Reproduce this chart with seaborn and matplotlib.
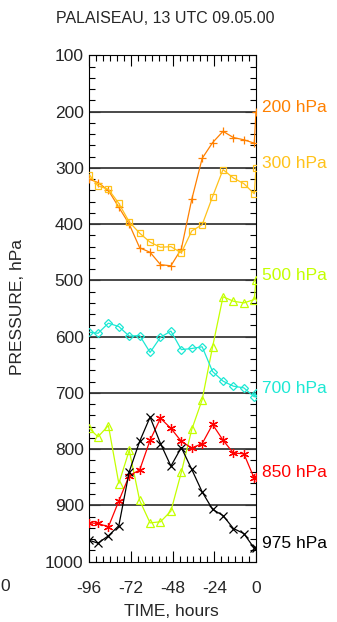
import numpy as np
import pandas as pd
import matplotlib
matplotlib.use('Agg')
import matplotlib.pyplot as plt
import seaborn as sns
from matplotlib.ticker import MultipleLocator

# ---- data ----
hours = [-96, -91, -85, -79, -73, -67, -61, -55, -49, -43, -37, -31, -25, -19, -13, -7, -1, 0]

p200 = [320, 326, 340, 370, 400, 442, 450, 472, 474, 444, 356, 283, 255, 235, 246, 250, 256, 200]
p300 = [312, 332, 338, 363, 396, 416, 432, 441, 440, 451, 412, 401, 351, 303, 318, 328, 346, 300]
p500 = [763, 778, 758, 861, 802, 891, 931, 929, 910, 841, 765, 712, 618, 529, 537, 540, 534, 500]
p700 = [592, 594, 576, 582, 599, 598, 628, 601, 590, 623, 621, 618, 662, 679, 688, 691, 707, 700]
p850 = [931, 932, 938, 892, 847, 837, 784, 745, 763, 786, 798, 790, 756, 784, 807, 808, 852, 850]
p975 = [962, 967, 954, 936, 840, 786, 743, 790, 830, 797, 836, 876, 907, 918, 941, 950, 976, 975]

levels = ['200 hPa', '300 hPa', '500 hPa', '700 hPa', '850 hPa', '975 hPa']
level_values = [200, 300, 500, 700, 850, 975]
series = [p200, p300, p500, p700, p850, p975]
colors = ['#ff8000', '#ffc21a', '#c4ff00', '#1de8d4', '#ff0000', '#000000']
markers = ['+', 's', '^', 'D', (6, 2, 0), 'x']
msizes = [6, 5, 5.5, 3.6, 6.5, 5.5]

x_ticks = [-96, -72, -48, -24, 0]
y_ticks = [100, 200, 300, 400, 500, 600, 700, 800, 900, 1000]
grid_levels = [200, 300, 400, 500, 600, 700, 800, 900]

title = 'PALAISEAU, 13 UTC 09.05.00'
xlabel = 'TIME, hours'
ylabel = 'PRESSURE, hPa'

sns.set_style('ticks')
plt.rcParams['font.family'] = ['Liberation Sans', 'DejaVu Sans']
plt.rcParams['axes.unicode_minus'] = False

W, H = 337, 622
fig = plt.figure(figsize=(W / 100, H / 100), dpi=100)
fig.patch.set_facecolor('white')
ax_l, ax_r, ax_t, ax_b = 89.3, 256.0, 55.4, 561.7
ax = fig.add_axes([ax_l / W, 1 - ax_b / H, (ax_r - ax_l) / W, (ax_b - ax_t) / H])

for g in grid_levels:
    ax.axhline(g, color='#3a3a3a', lw=1.3, zorder=1)

rows = []
for lab, vals in zip(levels, series):
    for t, p in zip(hours, vals):
        rows.append({'time': t, 'pressure': p, 'level': lab})
df = pd.DataFrame(rows)

for lab, col, mk, ms in zip(levels, colors, markers, msizes):
    sub = df[df['level'] == lab]
    sns.lineplot(data=sub, x='time', y='pressure', ax=ax, color=col,
                 marker=mk, markersize=ms, markerfacecolor='none',
                 markeredgecolor=col, markeredgewidth=0.9, linewidth=0.9,
                 estimator=None, sort=False, legend=False, zorder=3)

ax.set_xlim(-96, 0)
ax.set_ylim(1000, 100)
ax.set_xticks(x_ticks)
ax.set_yticks(y_ticks)
ax.xaxis.set_minor_locator(MultipleLocator(4))
ax.yaxis.set_minor_locator(MultipleLocator(20))
ax.tick_params(which='both', direction='in', top=True, right=True, color='black', width=0.8)
ax.tick_params(which='major', length=8)
ax.tick_params(which='minor', length=4)
ax.tick_params(axis='x', which='major', labelsize=12.5, pad=14)
ax.tick_params(axis='y', which='major', labelsize=12.5, pad=4)
for s in ax.spines.values():
    s.set_color('black')
    s.set_linewidth(0.8)
ax.set_xlabel('')
ax.set_ylabel('')

for lab, val, col in zip(levels, level_values, colors):
    ax.annotate(lab, xy=(1, val), xycoords=('axes fraction', 'data'),
                xytext=(4, 0), textcoords='offset points', ha='left', va='baseline',
                color=col, fontsize=12.5, annotation_clip=False)

fig.text(165.5 / W, 1 - 18.8 / H, title, ha='center', va='center', fontsize=11.5)
fig.text(18 / W, 1 - 307 / H, ylabel, ha='center', va='center', rotation=90, fontsize=12.5)
fig.text(171.5 / W, 1 - 611 / H, xlabel, ha='center', va='center', fontsize=12.5)
# stray "0" at the left edge, as in the reference (kept fully inside the figure)
fig.text(0.5 / W, 1 - 586.5 / H, '0', ha='left', va='center', fontsize=12.5)

fig.savefig('out.png', dpi=100, facecolor='white')
